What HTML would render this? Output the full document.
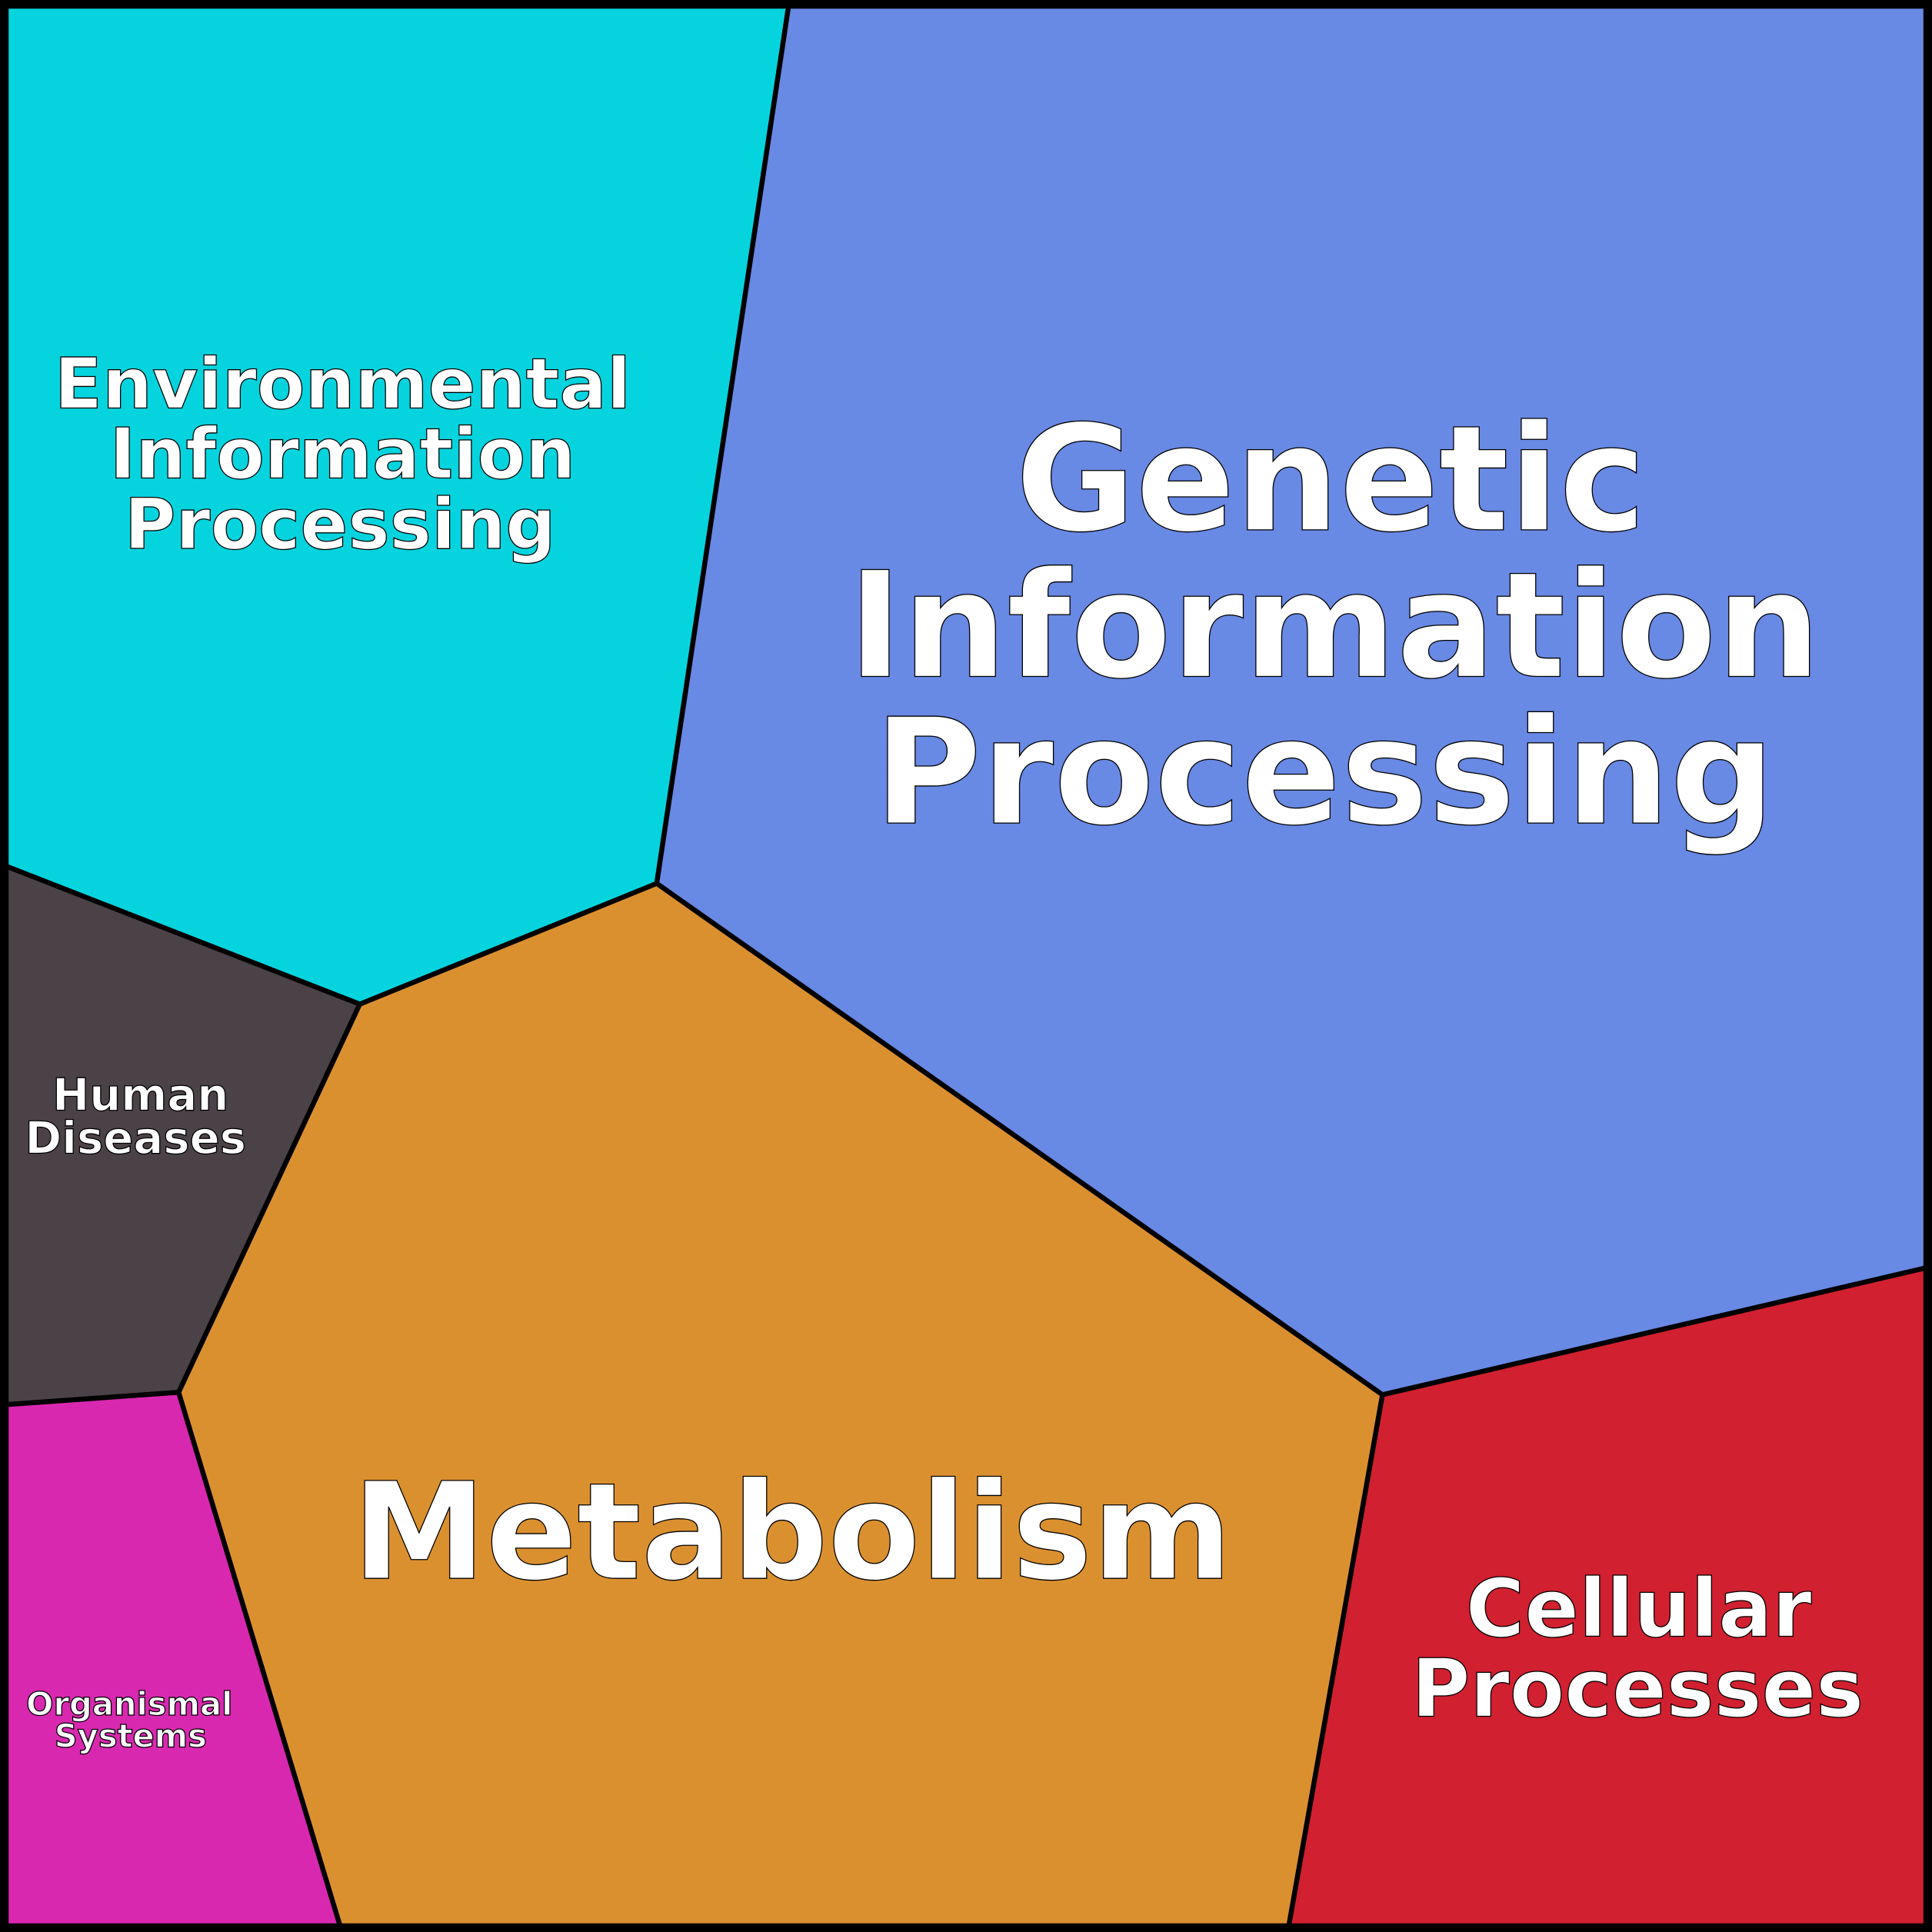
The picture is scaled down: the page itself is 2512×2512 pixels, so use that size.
<!DOCTYPE html>
<html><head><style>html,body{margin:0;padding:0;background:#000}svg{display:block}</style></head>
<body>
<svg width="2512" height="2512" viewBox="0 0 1568 1568" xmlns="http://www.w3.org/2000/svg">
<rect x="0" y="0" width="1568" height="1568" fill="#000"/>
<g stroke="#000" stroke-width="4" stroke-linejoin="round">
<polygon points="5,5 640,5 533,717 292,815 5,703" fill="#05d4de"/>
<polygon points="640,5 1563,5 1563,1029 1122,1132 533,717" fill="#6889e4"/>
<polygon points="5,703 292,815 145,1130 5,1140" fill="#4b4248"/>
<polygon points="5,1140 145,1130 276,1563 5,1563" fill="#d928b0"/>
<polygon points="292,815 533,717 1122,1132 1046,1563 276,1563 145,1130" fill="#db9030"/>
<polygon points="1122,1132 1563,1029 1563,1563 1046,1563" fill="#d12030"/>
</g>
<rect x="2.5" y="2.5" width="1563" height="1563" fill="none" stroke="#000" stroke-width="6"/>
<g font-family="DejaVu Sans, Liberation Sans, sans-serif" font-weight="bold" fill="#fff" stroke="#000" stroke-width="0.8" text-anchor="middle">
<g font-size="57"><text x="278" y="331">Environmental</text><text x="278" y="388">Information</text><text x="276" y="445">Processing</text></g>
<g font-size="119"><text x="1080" y="430">Genetic</text><text x="1083" y="549">Information</text><text x="1075" y="668">Processing</text></g>
<text x="643" y="1281" font-size="109">Metabolism</text>
<g font-size="65"><text x="1330" y="1328">Cellular</text><text x="1329" y="1393">Processes</text></g>
<g font-size="36"><text x="114" y="901">Human</text><text x="110" y="936">Diseases</text></g>
<g font-size="26"><text x="105" y="1392">Organismal</text><text x="106" y="1418">Systems</text></g>
</g>
</svg>
</body></html>
